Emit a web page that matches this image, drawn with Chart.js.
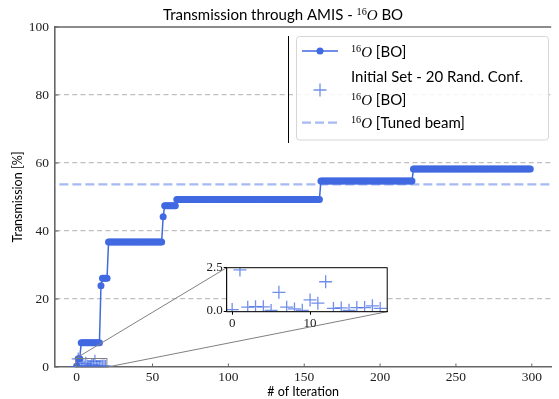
<!DOCTYPE html>
<html>
<head>
<meta charset="utf-8">
<script src="https://cdn.jsdelivr.net/npm/chart.js@4.4.0/dist/chart.umd.min.js"></script>
<style>
  html, body { margin: 0; padding: 0; background: #fff; }
  #wrap { position: relative; width: 559px; height: 399px; }
  #main-chart { position: absolute; left: 0; top: 0; }
  #inset-chart { position: absolute; left: 190px; top: 255px; }
</style>
</head>
<body>
<div id="wrap">
  <canvas id="main-chart" width="559" height="399"></canvas>
  <canvas id="inset-chart" width="205" height="75"></canvas>
</div>
<script>
// data
// best transmission per iteration (BO run), one value per iteration 0..299
const boTransmission = [
  0.3, 2.4, 2.4,
  7.1, 7.1, 7.1, 7.1, 7.1, 7.1, 7.1, 7.1, 7.1, 7.1, 7.1, 7.1, 7.1,
  23.9,
  26.1, 26.1, 26.1, 26.1,
  36.8, 36.8, 36.8, 36.8, 36.8, 36.8, 36.8, 36.8, 36.8, 36.8,
  36.8, 36.8, 36.8, 36.8, 36.8, 36.8, 36.8, 36.8, 36.8, 36.8,
  36.8, 36.8, 36.8, 36.8, 36.8, 36.8, 36.8, 36.8, 36.8, 36.8,
  36.8, 36.8, 36.8, 36.8, 36.8, 36.8,
  44.2,
  47.4, 47.4, 47.4, 47.4, 47.4, 47.4, 47.4, 47.4,
  49.3, 49.3, 49.3, 49.3, 49.3, 49.3, 49.3, 49.3, 49.3, 49.3,
  49.3, 49.3, 49.3, 49.3, 49.3, 49.3, 49.3, 49.3, 49.3, 49.3,
  49.3, 49.3, 49.3, 49.3, 49.3, 49.3, 49.3, 49.3, 49.3, 49.3,
  49.3, 49.3, 49.3, 49.3, 49.3, 49.3, 49.3, 49.3, 49.3, 49.3,
  49.3, 49.3, 49.3, 49.3, 49.3, 49.3, 49.3, 49.3, 49.3, 49.3,
  49.3, 49.3, 49.3, 49.3, 49.3, 49.3, 49.3, 49.3, 49.3, 49.3,
  49.3, 49.3, 49.3, 49.3, 49.3, 49.3, 49.3, 49.3, 49.3, 49.3,
  49.3, 49.3, 49.3, 49.3, 49.3, 49.3, 49.3, 49.3, 49.3, 49.3,
  49.3, 49.3, 49.3, 49.3, 49.3, 49.3, 49.3, 49.3, 49.3, 49.3,
  49.3, 49.3, 49.3, 49.3, 49.3,
  54.7, 54.7, 54.7, 54.7, 54.7, 54.7, 54.7, 54.7, 54.7, 54.7,
  54.7, 54.7, 54.7, 54.7, 54.7, 54.7, 54.7, 54.7, 54.7, 54.7,
  54.7, 54.7, 54.7, 54.7, 54.7, 54.7, 54.7, 54.7, 54.7, 54.7,
  54.7, 54.7, 54.7, 54.7, 54.7, 54.7, 54.7, 54.7, 54.7, 54.7,
  54.7, 54.7, 54.7, 54.7, 54.7, 54.7, 54.7, 54.7, 54.7, 54.7,
  54.7, 54.7, 54.7, 54.7, 54.7, 54.7, 54.7, 54.7, 54.7, 54.7,
  54.7,
  58.2, 58.2, 58.2, 58.2, 58.2, 58.2, 58.2, 58.2, 58.2, 58.2,
  58.2, 58.2, 58.2, 58.2, 58.2, 58.2, 58.2, 58.2, 58.2, 58.2,
  58.2, 58.2, 58.2, 58.2, 58.2, 58.2, 58.2, 58.2, 58.2, 58.2,
  58.2, 58.2, 58.2, 58.2, 58.2, 58.2, 58.2, 58.2, 58.2, 58.2,
  58.2, 58.2, 58.2, 58.2, 58.2, 58.2, 58.2, 58.2, 58.2, 58.2,
  58.2, 58.2, 58.2, 58.2, 58.2, 58.2, 58.2, 58.2, 58.2, 58.2,
  58.2, 58.2, 58.2, 58.2, 58.2, 58.2, 58.2, 58.2, 58.2, 58.2,
  58.2, 58.2, 58.2, 58.2, 58.2, 58.2, 58.2, 58.2,
]

// initial set, 20 random configurations
const initIteration = [0, 1, 2, 3, 4, 5, 6, 7, 8, 9, 10, 11, 12, 13, 14, 15, 16, 17, 18, 19]
const initTransmission = [0.08, 2.37, 0.22, 0.25, 0.24, 0.03, 1.08, 0.22, 0.12, 0.04,
  0.64, 0.45, 1.69, 0.15, 0.18, 0.04, 0.2, 0.2, 0.3, 0.15]

const tunedBeam = 53.7

const xTicks = [0, 50, 100, 150, 200, 250, 300]
const yTicks = [0, 20, 40, 60, 80, 100]
const insetXTicks = [0, 10]
const insetYTicks = [0, 2.5]

// styles
const SANS = "Lato, 'Open Sans', sans-serif"
const SERIF = "'Liberation Serif', 'DejaVu Serif', serif"
const boColor = "#4169e1"
const crossColor = "rgba(65, 105, 225, 0.75)"
const tunedColor = "#a6baf3"

// zoomed window shown in the inset
const zoomX = [-0.7, 19.9]
const zoomY = [-0.04, 2.5]

// text with a superscript 16 and italic O
function drawRich(ctx, x, y, parts) {
  parts.forEach(([text, font, dy]) => {
    ctx.font = font
    ctx.fillText(text, x, y + (dy || 0))
    x += ctx.measureText(text).width
  })
}
function isotope(rest, size) {
  size = size || 15
  return [
    ["16", (size * 0.68) + "px " + SERIF, -size * 0.36],
    ["O", "italic " + size + "px " + SERIF],
    [" " + rest, size + "px " + SANS],
  ]
}

// ---------------- inset ----------------
const insetCanvas = document.getElementById("inset-chart")
const insetOffset = { x: 190, y: 255 }

const insetFrame = {
  id: "insetFrame",
  beforeDatasetsDraw(chart) {
    const { ctx, chartArea: a } = chart
    ctx.save()
    ctx.fillStyle = "#fff"
    ctx.fillRect(a.left, a.top, a.right - a.left, a.bottom - a.top)
    ctx.restore()
  },
  afterDraw(chart) {
    const { ctx, chartArea: a } = chart
    ctx.save()
    ctx.strokeStyle = "#000"
    ctx.lineWidth = 1
    ctx.strokeRect(a.left, a.top, a.right - a.left, a.bottom - a.top)
    ctx.restore()
  },
}

let insetChart = new Chart(insetCanvas, {
  type: "scatter",
  data: {
    datasets: [
      {
        data: initTransmission.map((v, i) => ({ x: initIteration[i], y: v })),
        pointStyle: "cross",
        pointRadius: 6.5,
        borderColor: crossColor,
        borderWidth: 1.3,
      },
    ],
  },
  options: {
    responsive: false,
    animation: false,
    layout: { padding: { top: 12.7, right: 6.7, left: 0, bottom: 0 } },
    plugins: { legend: { display: false }, tooltip: { enabled: false } },
    scales: {
      x: {
        type: "linear",
        min: zoomX[0],
        max: zoomX[1],
        afterFit: (s) => { s.height = 18.3 },
        afterBuildTicks: (s) => { s.ticks = insetXTicks.map((v) => ({ value: v })) },
        ticks: { font: { family: SERIF, size: 13 }, color: "#222", padding: 1 },
        grid: { drawOnChartArea: false, tickLength: 3, tickColor: "#000" },
        border: { color: "#000", width: 1 },
      },
      y: {
        min: zoomY[0],
        max: zoomY[1],
        afterFit: (s) => { s.width = 36.7 },
        afterBuildTicks: (s) => { s.ticks = insetYTicks.map((v) => ({ value: v })) },
        ticks: {
          font: { family: SERIF, size: 13 },
          color: "#222",
          padding: 1,
          callback: (v) => v.toFixed(1),
        },
        grid: { drawOnChartArea: false, tickLength: 3, tickColor: "#000" },
        border: { color: "#000", width: 1 },
      },
    },
  },
  plugins: [insetFrame],
})

// ---------------- main chart ----------------
const mainCanvas = document.getElementById("main-chart")

const mainDecor = {
  id: "mainDecor",
  afterDatasetsDraw(chart) {
    const { ctx, chartArea: a, scales } = chart
    const xs = scales.x
    const ys = scales.y
    ctx.save()
    // top spine
    ctx.strokeStyle = "#666"
    ctx.lineWidth = 1.6
    ctx.beginPath()
    ctx.moveTo(a.left, a.top)
    ctx.lineTo(a.right, a.top)
    ctx.stroke()
    // inward tick marks
    ctx.lineWidth = 1
    ctx.beginPath()
    xs.ticks.forEach((t) => {
      const px = xs.getPixelForValue(t.value)
      ctx.moveTo(px, a.bottom)
      ctx.lineTo(px, a.bottom - 3.5)
    })
    ys.ticks.forEach((t) => {
      const py = ys.getPixelForValue(t.value)
      ctx.moveTo(a.left, py)
      ctx.lineTo(a.left + 3.5, py)
    })
    ctx.stroke()
    // zoom window and connectors to the inset
    const ia = insetChart.chartArea
    const x0 = xs.getPixelForValue(zoomX[0])
    const x1 = xs.getPixelForValue(zoomX[1])
    const y0 = ys.getPixelForValue(zoomY[1])
    const y1 = ys.getPixelForValue(zoomY[0])
    ctx.strokeStyle = "#808080"
    ctx.lineWidth = 1
    ctx.strokeRect(x0, y0, x1 - x0, y1 - y0)
    ctx.beginPath()
    ctx.moveTo(x0, y0)
    ctx.lineTo(ia.left + insetOffset.x, ia.top + insetOffset.y)
    ctx.moveTo(x1, y1)
    ctx.lineTo(ia.right + insetOffset.x, ia.bottom + insetOffset.y)
    ctx.stroke()
    ctx.restore()
  },
  afterDraw(chart) {
    const ctx = chart.ctx
    ctx.save()
    ctx.fillStyle = "#000"
    ctx.textBaseline = "alphabetic"
    // title
    drawRich(ctx, 163, 20, [["Transmission through AMIS - ", "15px " + SANS], ...isotope("BO")])

    // stray vertical line left of the legend
    ctx.strokeStyle = "#000"
    ctx.lineWidth = 1
    ctx.beginPath()
    ctx.moveTo(288.5, 36)
    ctx.lineTo(288.5, 143)
    ctx.stroke()

    // legend box
    ctx.beginPath()
    ctx.roundRect(296.5, 36.5, 252, 103.5, 3)
    ctx.fillStyle = "rgba(255, 255, 255, 0.85)"
    ctx.fill()
    ctx.strokeStyle = "#d6d6d6"
    ctx.stroke()

    // handles
    ctx.strokeStyle = boColor
    ctx.lineWidth = 1.5
    ctx.beginPath()
    ctx.moveTo(302, 51)
    ctx.lineTo(338, 51)
    ctx.stroke()
    ctx.fillStyle = boColor
    ctx.beginPath()
    ctx.arc(320, 51, 3.5, 0, Math.PI * 2)
    ctx.fill()

    ctx.strokeStyle = crossColor
    ctx.lineWidth = 1.3
    ctx.beginPath()
    ctx.moveTo(313.5, 90)
    ctx.lineTo(326.5, 90)
    ctx.moveTo(320, 83.5)
    ctx.lineTo(320, 96.5)
    ctx.stroke()

    ctx.strokeStyle = tunedColor
    ctx.lineWidth = 2.2
    ctx.setLineDash([9, 4])
    ctx.beginPath()
    ctx.moveTo(302, 122.7)
    ctx.lineTo(338, 122.7)
    ctx.stroke()
    ctx.setLineDash([])

    // labels
    ctx.fillStyle = "#000"
    drawRich(ctx, 351, 57, isotope("[BO]"))
    ctx.font = "15px " + SANS
    ctx.fillText("Initial Set - 20 Rand. Conf.", 351, 82)
    drawRich(ctx, 351, 105, isotope("[BO]"))
    drawRich(ctx, 351, 128, isotope("[Tuned beam]"))
    ctx.restore()
  },
}

let mainChart = new Chart(mainCanvas, {
  type: "scatter",
  data: {
    datasets: [
      {
        data: initTransmission.map((v, i) => ({ x: initIteration[i], y: v })),
        pointStyle: "cross",
        pointRadius: 6.5,
        borderColor: crossColor,
        borderWidth: 1.3,
        order: 0,
      },
      {
        data: boTransmission.map((v, i) => ({ x: i, y: v })),
        showLine: true,
        borderColor: boColor,
        borderWidth: 1.5,
        pointRadius: 3.5,
        pointBorderWidth: 0,
        pointBackgroundColor: boColor,
        order: 1,
      },
      {
        data: [{ x: -20, y: tunedBeam }, { x: 320, y: tunedBeam }],
        showLine: true,
        borderColor: tunedColor,
        borderWidth: 2.2,
        borderDash: [9, 4],
        pointRadius: 0,
        order: 2,
      },
    ],
  },
  options: {
    responsive: false,
    animation: false,
    layout: { padding: { top: 27, right: 0, left: 0, bottom: 0 } },
    plugins: { legend: { display: false }, tooltip: { enabled: false } },
    scales: {
      x: {
        type: "linear",
        min: -14.3,
        max: 312.8,
        afterFit: (s) => { s.height = 32 },
        afterBuildTicks: (s) => { s.ticks = xTicks.map((v) => ({ value: v })) },
        ticks: { font: { family: SERIF, size: 13.5 }, color: "#222", padding: 2, maxRotation: 0 },
        grid: { display: false, drawTicks: false },
        border: { color: "#666", width: 1.6 },
        title: {
          display: true,
          text: "# of Iteration",
          font: { family: SANS, size: 12.5 },
          color: "#000",
          padding: { top: 0.5, bottom: 0 },
        },
      },
      y: {
        min: 0,
        max: 100,
        afterFit: (s) => { s.width = 55 },
        afterBuildTicks: (s) => { s.ticks = yTicks.map((v) => ({ value: v })) },
        ticks: { font: { family: SERIF, size: 13.5 }, color: "#222", padding: 6 },
        grid: {
          color: (c) => (c.tick && c.tick.value > 0 && c.tick.value < 100 ? "#c0c0c0" : "rgba(0,0,0,0)"),
          lineWidth: 1.2,
          drawTicks: false,
        },
        border: { color: "#666", width: 1.6, dash: [5, 3.3] },
        title: {
          display: true,
          text: "Transmission [%]",
          font: { family: SANS, size: 12.5 },
          color: "#000",
          padding: { top: 10.8, bottom: 0 },
        },
      },
    },
  },
  plugins: [mainDecor],
})
</script>
</body>
</html>
